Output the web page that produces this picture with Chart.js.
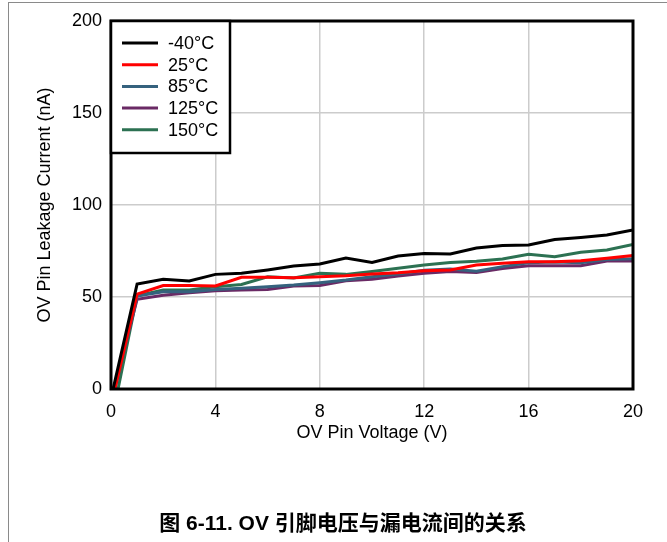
<!DOCTYPE html>
<html>
<head>
<meta charset="utf-8">
<script src="https://cdn.jsdelivr.net/npm/chart.js@4"></script>
<style>
  body { margin: 0; background: #fff; }
  #wrap { position: relative; width: 667px; height: 542px; overflow: hidden; }
  #frame {
    position: absolute; left: 8px; top: 2px; right: -2px; bottom: -2px;
    border-left: 1.5px solid #8a8a8a; border-top: 1.5px solid #8a8a8a;
  }
  #caption {
    position: absolute; left: 0; width: 686px; top: 506px;
    text-align: center; white-space: nowrap;
    font: bold 21px Arial, "Liberation Sans", "Noto Sans CJK SC", sans-serif;
    color: #000;
  }
</style>
</head>
<body>
<div id="wrap">
  <div id="frame"></div>
  <canvas id="leakChart" width="667" height="542"></canvas>
  <div id="caption">图 6-11. OV 引脚电压与漏电流间的关系</div>
</div>
<script>
// OV pin voltage (V); the first sample of each curve starts just right of 0
const voltage = [0, 1, 2, 3, 4, 5, 6, 7, 8, 9, 10, 11, 12, 13, 14, 15, 16, 17, 18, 19, 20];
const startVoltage = [0.08, 0.15, 0.15, 0.1, 0.27];

// leakage current (nA)
const leakM40 = [0, 57, 59.6, 58.7, 62.3, 62.9, 64.7, 66.8, 67.9, 71.2, 68.8, 72.3, 73.7, 73.4, 76.6, 78, 78.3, 81.3, 82.4, 83.7, 86.4];
const leak25 = [0, 51.6, 56.2, 56.2, 56, 60.7, 60.7, 60.5, 61, 61.5, 62.5, 63.2, 64.3, 64.7, 67.4, 68.3, 69.2, 69.2, 69.7, 71, 72.5];
const leak85 = [0, 50.5, 52.9, 52.9, 54.1, 54.7, 55.6, 56.5, 57.8, 59.2, 61, 62.5, 64.5, 65.2, 64, 66.5, 68.6, 69, 68.6, 70.4, 70.8];
const leak125 = [0, 48.7, 51, 52.3, 53.4, 53.8, 54.1, 56, 56.3, 58.8, 59.6, 61.4, 62.9, 63.8, 63.3, 65.5, 67, 67, 67, 69.6, 69.6];
const leak150 = [0, 50.7, 53.8, 53.8, 55.6, 56.8, 61, 60.3, 62.9, 62.3, 63.8, 65.6, 67.4, 68.7, 69.4, 70.6, 73.2, 71.9, 74.3, 75.5, 78.5];

const seriesLabels = ["-40°C", "25°C", "85°C", "125°C", "150°C"];
const seriesColors = ["#000000", "#ff0000", "#35627e", "#6a2a65", "#2c7152"];
const seriesValues = [leakM40, leak25, leak85, leak125, leak150];

const xTicks = [0, 4, 8, 12, 16, 20];
const yTicks = [0, 50, 100, 150, 200];

const FONT = "Arial, 'Liberation Sans', sans-serif";

function toPoints(values, s) {
  return values.map((v, i) => ({ x: i === 0 ? startVoltage[s] : voltage[i], y: v }));
}

// plot frame + boxed legend in the top-left corner
const framePlugin = {
  id: "frameAndLegend",
  afterDatasetsDraw(chart) {
    const { ctx, chartArea: a } = chart;
    ctx.save();
    ctx.strokeStyle = "#000";
    ctx.lineWidth = 3;
    ctx.strokeRect(a.left, a.top, a.right - a.left, a.bottom - a.top);

    const bx = a.left, by = a.top, bw = 119, bh = 132;
    ctx.fillStyle = "#fff";
    ctx.fillRect(bx, by, bw, bh);
    ctx.lineWidth = 2.5;
    ctx.strokeRect(bx, by, bw, bh);

    ctx.font = "18px " + FONT;
    ctx.textBaseline = "middle";
    chart.data.datasets.forEach((ds, i) => {
      const y = by + 22 + i * 21.7;
      ctx.strokeStyle = ds.borderColor;
      ctx.lineWidth = 3;
      ctx.beginPath();
      ctx.moveTo(bx + 11, y);
      ctx.lineTo(bx + 47, y);
      ctx.stroke();
      ctx.fillStyle = "#000";
      ctx.fillText(ds.label, bx + 57, y + 1);
    });
    ctx.restore();
  },
};

const ctx = document.getElementById("leakChart").getContext("2d");
new Chart(ctx, {
  type: "line",
  data: {
    datasets: seriesValues.map((vals, s) => ({
      label: seriesLabels[s],
      data: toPoints(vals, s),
      borderColor: seriesColors[s],
      backgroundColor: seriesColors[s],
      borderWidth: 3,
      pointRadius: 0,
      tension: 0,
      fill: false,
    })),
  },
  options: {
    responsive: false,
    animation: false,
    layout: { padding: { left: 34, top: 21, right: 34, bottom: 98 } },
    plugins: {
      legend: { display: false },
      tooltip: { enabled: false },
    },
    scales: {
      x: {
        type: "linear",
        min: 0,
        max: 20,
        afterFit: (s) => { s.height = 55; },
        afterBuildTicks: (s) => { s.ticks = xTicks.map((v) => ({ value: v })); },
        ticks: { color: "#000", padding: 12, font: { size: 18, family: FONT } },
        grid: { color: "#cccccc", lineWidth: 1.5, drawTicks: false },
        border: { display: false },
        title: {
          display: true,
          text: "OV Pin Voltage (V)",
          color: "#000",
          padding: 0,
          font: { size: 18, family: FONT },
        },
      },
      y: {
        min: 0,
        max: 200,
        afterFit: (s) => { s.width = 77; },
        afterBuildTicks: (s) => { s.ticks = yTicks.map((v) => ({ value: v })); },
        ticks: { color: "#000", padding: 9, font: { size: 18, family: FONT } },
        grid: { color: "#cccccc", lineWidth: 1.5, drawTicks: false },
        border: { display: false },
        title: {
          display: true,
          text: "OV Pin Leakage Current (nA)",
          color: "#000",
          padding: 0,
          font: { size: 18, family: FONT },
        },
      },
    },
  },
  plugins: [framePlugin],
});
</script>
</body>
</html>
